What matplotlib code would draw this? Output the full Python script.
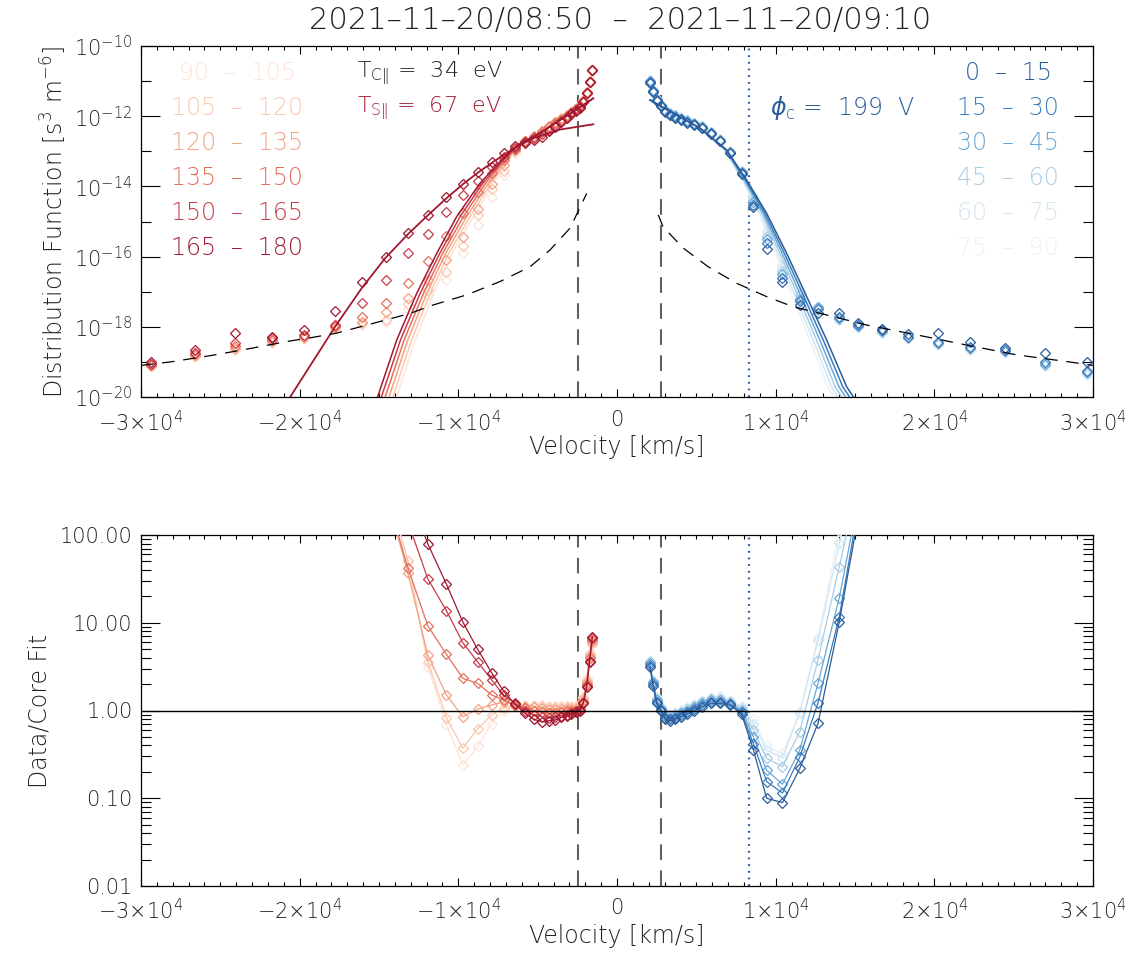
import matplotlib.pyplot as plt
import numpy as np
from matplotlib.ticker import FixedLocator, MultipleLocator, NullFormatter

plt.rcParams['font.family'] = 'DejaVu Sans'
plt.rcParams['font.weight'] = 'light'
plt.rcParams['axes.labelweight'] = 'light'
plt.rcParams['mathtext.fontset'] = 'custom'
plt.rcParams['mathtext.rm'] = 'DejaVu Sans:light'
plt.rcParams['mathtext.it'] = 'DejaVu Sans:italic:light'
plt.rcParams['text.color'] = '#222222'
plt.rcParams['axes.labelcolor'] = '#222222'

W, H = 1133, 960

# pitch angle bins and colours
bins_red = ['90  –  105', '105  –  120', '120  –  135', '135  –  150', '150  –  165', '165  –  180']
bins_blue = ['0  –  15', '15  –  30', '30  –  45', '45  –  60', '60  –  75', '75  –  90']
reds = ['#fde4d8', '#fcc7ad', '#f5a184', '#e3705a', '#c93a48', '#a01830']
blues = ['#2b5c99', '#3a7bbf', '#69a7d5', '#a6cde6', '#d2e5f2', '#eaf2f9']

# velocity grid (km/s) of the energy bins
v_left = [-29400, -26600, -24050, -21750, -19700, -17800, -16100, -14580, -13180, -11920,
          -10750, -9720, -8790, -7900, -7150, -6450, -5800, -5240, -4740, -4290,
          -3880, -3510, -3170, -2870, -2590, -2340, -2120, -1910, -1730, -1560]
v_right = [2070, 2270, 2500, 2750, 3030, 3330, 3660, 4030, 4430, 4870,
           5360, 5900, 6490, 7140, 7850, 8600, 9430, 10430, 11520, 12670,
           14010, 15200, 16700, 18340, 20230, 22250, 24450, 26970, 29620]

# log10 of distribution function, antiparallel bins (90-105 ... 165-180)
logf_left = [
    [-19.15, -18.85, -18.65, -18.45, -18.35, -18.05, -17.95, -17.85, -17.5, -17.1,
     -16.67, -15.9, -15.1, -14.31, -13.67, -13.05, -12.7, -12.55, -12.42, -12.28,
     -12.16, -12.06, -11.96, -11.87, -11.78, -11.68, -11.55, -11.3, -11.0, -10.7],
    [-19.12, -18.82, -18.62, -18.43, -18.32, -18.02, -17.9, -17.8, -17.35, -16.95,
     -16.43, -15.7, -14.81, -14.07, -13.55, -13.0, -12.7, -12.55, -12.42, -12.28,
     -12.16, -12.06, -11.96, -11.87, -11.78, -11.69, -11.56, -11.31, -11.0, -10.7],
    [-19.1, -18.8, -18.6, -18.4, -18.3, -18.0, -17.85, -17.57, -17.18, -16.67,
     -16.1, -15.43, -14.63, -13.92, -13.4, -12.97, -12.71, -12.56, -12.43, -12.29,
     -12.17, -12.07, -11.97, -11.88, -11.79, -11.7, -11.57, -11.32, -11.01, -10.69],
    [-19.08, -18.78, -18.55, -18.38, -18.27, -17.97, -17.71, -17.33, -16.74, -16.13,
     -15.41, -14.77, -14.15, -13.61, -13.25, -12.93, -12.72, -12.58, -12.46, -12.32,
     -12.2, -12.1, -11.99, -11.9, -11.8, -11.72, -11.58, -11.33, -11.02, -10.68],
    [-19.05, -18.75, -18.47, -18.33, -18.23, -17.95, -17.33, -16.67, -15.91, -15.36,
     -14.72, -14.25, -13.84, -13.44, -13.15, -12.9, -12.74, -12.62, -12.52, -12.38,
     -12.25, -12.14, -12.02, -11.92, -11.82, -11.74, -11.6, -11.34, -11.02, -10.68],
    [-19.0, -18.66, -18.17, -18.28, -18.09, -17.54, -16.71, -16.0, -15.32, -14.81,
     -14.29, -13.93, -13.58, -13.3, -13.06, -12.85, -12.76, -12.68, -12.58, -12.43,
     -12.3, -12.17, -12.05, -11.94, -11.84, -11.76, -11.6, -11.35, -11.02, -10.67],
]

# log10 of distribution function, parallel bins (0-15 ... 75-90)
logf_right = [
    [-11.04, -11.31, -11.57, -11.71, -11.88, -11.98, -12.04, -12.11, -12.18, -12.25,
     -12.35, -12.51, -12.72, -13.05, -13.64, -14.59, -15.77, -16.72, -17.37, -17.6,
     -17.62, -17.9, -18.05, -18.2, -18.18, -18.42, -18.6, -18.75, -18.99],
    [-11.02, -11.29, -11.55, -11.7, -11.86, -11.96, -12.02, -12.09, -12.16, -12.23,
     -12.33, -12.49, -12.7, -13.04, -13.62, -14.52, -15.6, -16.6, -17.26, -17.5,
     -17.72, -17.95, -18.1, -18.28, -18.42, -18.58, -18.66, -19.0, -19.25],
    [-11.0, -11.27, -11.53, -11.69, -11.84, -11.94, -12.0, -12.07, -12.14, -12.21,
     -12.31, -12.47, -12.68, -13.03, -13.6, -14.45, -15.5, -16.5, -17.2, -17.45,
     -17.75, -17.97, -18.12, -18.3, -18.45, -18.6, -18.68, -19.05, -19.3],
    [-10.99, -11.26, -11.52, -11.68, -11.83, -11.92, -11.98, -12.06, -12.12, -12.2,
     -12.29, -12.46, -12.67, -13.01, -13.58, -14.38, -15.4, -16.4, -17.1, -17.45,
     -17.78, -17.99, -18.14, -18.32, -18.48, -18.62, -18.7, -19.08, -19.33],
    [-10.98, -11.25, -11.51, -11.67, -11.82, -11.91, -11.97, -12.04, -12.11, -12.19,
     -12.28, -12.45, -12.65, -13.0, -13.56, -14.3, -15.3, -16.3, -17.0, -17.5,
     -17.8, -18.0, -18.15, -18.33, -18.5, -18.63, -18.72, -19.1, -19.35],
    [-10.97, -11.24, -11.5, -11.66, -11.81, -11.9, -11.96, -12.03, -12.1, -12.18,
     -12.27, -12.44, -12.64, -12.99, -13.55, -14.25, -15.25, -16.25, -16.95, -17.55,
     -17.82, -18.02, -18.17, -18.35, -18.52, -18.65, -18.74, -19.12, -19.38],
]

# core fits, antiparallel side (shared log f levels, one velocity list per bin)
core_left_logf = [-20.0, -18.38, -17.05, -15.91, -14.86, -13.91, -13.2, -12.8, -12.49, -12.11, -11.87, -11.68, -11.49]
core_left_v = [
    [-13886, -12720, -11565, -10410, -9047, -7786, -6734, -6000, -4897, -3592, -2752, -2122, -1494],
    [-14130, -12950, -11780, -10600, -9260, -7950, -6820, -6040, -4897, -3592, -2752, -2122, -1494],
    [-14370, -13190, -11990, -10800, -9470, -8120, -6910, -6080, -4897, -3592, -2752, -2122, -1494],
    [-14610, -13420, -12200, -10990, -9680, -8290, -6995, -6120, -4897, -3592, -2752, -2122, -1494],
    [-14850, -13650, -12410, -11175, -9890, -8460, -7080, -6160, -4897, -3592, -2752, -2122, -1494],
    [-15090, -13886, -12626, -11365, -10104, -8636, -7166, -6200, -4897, -3592, -2752, -2122, -1494],
]

# core fits, parallel side
core_right_logf = [-11.54, -11.97, -12.34, -12.96, -13.82, -14.77, -15.91, -17.14, -18.38, -19.71, -20.1]
core_right_v = [
    [2080, 3763, 5231, 6914, 8174, 9435, 10696, 11956, 13217, 14477, 15050],
    [2080, 3763, 5231, 6880, 8110, 9330, 10550, 11780, 13000, 14230, 14800],
    [2080, 3763, 5231, 6850, 8050, 9230, 10410, 11600, 12790, 13990, 14550],
    [2080, 3763, 5231, 6820, 7990, 9130, 10270, 11420, 12580, 13750, 14300],
    [2080, 3763, 5231, 6790, 7930, 9030, 10130, 11240, 12370, 13510, 14050],
    [2080, 3763, 5231, 6760, 7870, 8930, 9990, 11060, 12160, 13270, 13800],
]

# strahl fit (165-180)
strahl_v = [-20600, -17770, -16090, -14620, -13150, -11890, -10730, -9690, -8740, -7800, -6540, -5280, -3590, -1490]
strahl_logf = [-20.0, -18.0, -16.9, -16.05, -15.35, -14.81, -14.33, -13.93, -13.6, -13.3, -12.93, -12.63, -12.38, -12.23]

# halo model (black dashed)
halo_left_v = [-30000, -27980, -25340, -23020, -20820, -19160, -17670, -14940, -13050, -11600, -9470, -7370, -5480, -4220, -2960, -1910]
halo_left_logf = [-19.1, -18.99, -18.8, -18.61, -18.42, -18.3, -18.18, -17.85, -17.62, -17.38, -17.09, -16.71, -16.29, -15.81, -15.19, -14.2]
halo_right_v = [2600, 2900, 4180, 5750, 7540, 9430, 11110, 13630, 15740, 18890, 22040, 25190, 28340, 30000]
halo_right_logf = [-14.81, -15.15, -15.76, -16.29, -16.76, -17.14, -17.43, -17.71, -17.95, -18.23, -18.52, -18.8, -18.99, -19.1]

# data / core fit, log10
ratio_left_v = v_left[6:]
ratio_left = [
    [3.0, 2.6, 1.72, 0.5, -0.165, -0.62, -0.41, -0.15, 0.0, 0.04, 0.06, 0.06, 0.06, 0.05,
     0.05, 0.05, 0.05, 0.05, 0.05, 0.07, 0.15, 0.37, 0.65, 0.75],
    [3.0, 2.6, 1.7, 0.556, -0.08, -0.43, -0.21, -0.05, 0.03, 0.05, 0.05, 0.05, 0.05, 0.04,
     0.04, 0.04, 0.04, 0.04, 0.04, 0.06, 0.14, 0.35, 0.64, 0.76],
    [3.0, 2.5, 1.563, 0.632, 0.177, -0.07, 0.014, 0.063, 0.1, 0.07, 0.04, 0.04, 0.03, 0.02,
     0.02, 0.02, 0.02, 0.02, 0.02, 0.04, 0.12, 0.32, 0.62, 0.78],
    [3.2, 2.49, 1.627, 0.963, 0.64, 0.367, 0.31, 0.177, 0.12, 0.06, 0.03, 0.0, -0.02, -0.03,
     -0.03, -0.02, -0.01, 0.0, 0.0, 0.02, 0.1, 0.3, 0.6, 0.8],
    [3.4, 2.8, 2.15, 1.499, 1.137, 0.773, 0.556, 0.348, 0.177, 0.089, 0.0, -0.05, -0.07, -0.08,
     -0.07, -0.06, -0.05, -0.03, -0.01, 0.01, 0.09, 0.28, 0.56, 0.83],
    [3.6, 3.1, 2.5, 1.897, 1.44, 1.01, 0.7, 0.43, 0.222, 0.074, -0.03, -0.1, -0.128, -0.116,
     -0.108, -0.078, -0.063, -0.04, -0.02, -0.006, 0.082, 0.271, 0.556, 0.841],
]
ratio_right_v = v_right[:22]
ratio_right = [
    [0.5, 0.28, 0.08, 0.0, -0.1, -0.12, -0.1, -0.07, -0.04, 0.0, 0.04, 0.08, 0.08, 0.06,
     -0.04, -0.45, -1.0, -1.05, -0.66, -0.146, 1.012, 2.2],
    [0.52, 0.3, 0.1, 0.01, -0.08, -0.1, -0.08, -0.05, -0.02, 0.02, 0.06, 0.1, 0.1, 0.07,
     -0.02, -0.38, -0.81, -0.94, -0.53, 0.089, 1.07, 2.3],
    [0.54, 0.32, 0.12, 0.02, -0.06, -0.08, -0.06, -0.03, 0.0, 0.04, 0.08, 0.12, 0.12, 0.08,
     0.0, -0.3, -0.68, -0.84, -0.45, 0.31, 1.286, 2.4],
    [0.55, 0.33, 0.13, 0.03, -0.05, -0.06, -0.04, -0.02, 0.02, 0.05, 0.1, 0.13, 0.13, 0.1,
     0.02, -0.22, -0.545, -0.64, -0.24, 0.58, 1.64, 2.6],
    [0.56, 0.34, 0.14, 0.04, -0.04, -0.05, -0.03, 0.0, 0.03, 0.06, 0.11, 0.14, 0.15, 0.11,
     0.04, -0.15, -0.45, -0.54, -0.025, 0.8, 1.905, 2.8],
    [0.57, 0.35, 0.15, 0.05, -0.03, -0.04, -0.02, 0.01, 0.04, 0.07, 0.12, 0.15, 0.16, 0.12,
     0.05, -0.1, -0.41, -0.49, -0.01, 0.84, 2.05, 3.0],
]

v_lim_low, v_lim_high = -2480, 2780   # dashed vertical limits
v_phi = 8330                          # spacecraft potential speed

xticks = [-30000, -20000, -10000, 0, 10000, 20000, 30000]
xlabels = [r'$-3{\times}10^4$', r'$-2{\times}10^4$', r'$-1{\times}10^4$', '0',
           r'$1{\times}10^4$', r'$2{\times}10^4$', r'$3{\times}10^4$']

fig = plt.figure(figsize=(W / 100, H / 100), dpi=100)
ax1 = fig.add_axes([141 / W, 1 - 397 / H, 952 / W, 351 / H])
ax2 = fig.add_axes([141 / W, 1 - 886 / H, 952 / W, 351 / H])

mk = dict(marker='D', ms=4.6, mfc='none', mew=0.9)

# ---- top panel
for i in range(6):
    ax1.plot(core_left_v[i], np.power(10.0, core_left_logf), color=reds[i], lw=1.1, zorder=3 + i)
    ax1.plot(v_left, np.power(10.0, logf_left[i]), ls='none', mec=reds[i], zorder=3 + i, **mk)
for i in range(5, -1, -1):
    ax1.plot(core_right_v[i], np.power(10.0, core_right_logf), color=blues[i], lw=1.1, zorder=9 - i)
    ax1.plot(v_right, np.power(10.0, logf_right[i]), ls='none', mec=blues[i], zorder=9 - i, **mk)
ax1.plot(strahl_v, np.power(10.0, strahl_logf), color=reds[5], lw=1.3, zorder=10)
ax1.plot(halo_left_v, np.power(10.0, halo_left_logf), color='black', lw=0.9, dashes=(10, 7), zorder=11)
ax1.plot(halo_right_v, np.power(10.0, halo_right_logf), color='black', lw=0.9, dashes=(10, 7), zorder=11)

# ---- bottom panel
for i in range(6):
    ax2.plot(ratio_left_v, np.power(10.0, ratio_left[i]), color=reds[i], lw=0.9, mec=reds[i], zorder=3 + i, **mk)
for i in range(5, -1, -1):
    ax2.plot(ratio_right_v, np.power(10.0, ratio_right[i]), color=blues[i], lw=0.9, mec=blues[i], zorder=9 - i, **mk)
ax2.axhline(1.0, color='black', lw=1.0, zorder=12)

for ax in (ax1, ax2):
    ax.set_yscale('log')
    ax.set_xlim(-30000, 30000)
    for v in (v_lim_low, v_lim_high):
        ax.axvline(v, color='#606060', lw=1.5, dashes=(7.5, 5), zorder=1)
    ax.axvline(v_phi, color='#2b5c99', lw=1.6, ls=(0, (0.8, 2.2)), zorder=1)
    ax.xaxis.set_major_locator(FixedLocator(xticks))
    ax.set_xticklabels(xlabels)
    ax.xaxis.set_minor_locator(MultipleLocator(1000))
    ax.tick_params(which='both', direction='in', top=True, right=True, labelsize=15, width=0.8,
                   labelcolor='#222222')
    ax.tick_params(axis='x', which='major', length=5.5, pad=9)
    ax.tick_params(axis='x', which='minor', length=2.8)
    ax.tick_params(axis='y', which='major', length=13.5, pad=6)
    ax.tick_params(axis='y', which='minor', length=7)
    for s in ax.spines.values():
        s.set_linewidth(0.9)
    ax.set_xlabel('Velocity [km/s]', fontsize=17, labelpad=0)

ax1.set_ylim(1e-20, 1e-10)
ax1.yaxis.set_major_locator(FixedLocator([1e-20, 1e-18, 1e-16, 1e-14, 1e-12, 1e-10]))
ax1.set_yticklabels([r'$10^{-20}$', r'$10^{-18}$', r'$10^{-16}$', r'$10^{-14}$', r'$10^{-12}$', r'$10^{-10}$'])
ax1.yaxis.set_minor_locator(FixedLocator([1e-19, 1e-17, 1e-15, 1e-13, 1e-11]))
ax1.yaxis.set_minor_formatter(NullFormatter())
ax1.set_ylabel(r'Distribution Function [s$^3$ m$^{-6}$]', fontsize=17, labelpad=4)

ax2.set_ylim(0.01, 100)
ax2.yaxis.set_major_locator(FixedLocator([0.01, 0.1, 1, 10, 100]))
ax2.set_yticklabels(['0.01', '0.10', '1.00', '10.00', '100.00'])
ax2.yaxis.set_minor_locator(FixedLocator([m * 10.0 ** e for e in range(-2, 2) for m in range(2, 10)]))
ax2.yaxis.set_minor_formatter(NullFormatter())
ax2.set_ylabel('Data/Core Fit', fontsize=17, labelpad=6)

# ---- texts
fig.text(620 / W, 1 - 20 / H, '2021–11–20/08:50  –  2021–11–20/09:10', fontsize=22, ha='center', va='center')
for i in range(6):
    fig.text(237 / W, 1 - (73 + 35 * i) / H, bins_red[i], color=reds[i], fontsize=17, ha='center', va='center')
    fig.text(1008 / W, 1 - (73 + 35 * i) / H, bins_blue[i], color=blues[i], fontsize=17, ha='center', va='center')
fig.text(357 / W, 1 - 73 / H, r'T$_{\mathrm{C}\Vert}$ =  34  eV', color='#222222', fontsize=16, ha='left', va='center')
fig.text(357 / W, 1 - 108 / H, r'T$_{\mathrm{S}\Vert}$ =  67  eV', color=reds[5], fontsize=16, ha='left', va='center')
fig.text(770 / W, 1 - 108 / H, r'$\phi_{\mathrm{c}}$ =  199  V', color=blues[0], fontsize=17, ha='left', va='center')

fig.savefig('out.png', dpi=100)
